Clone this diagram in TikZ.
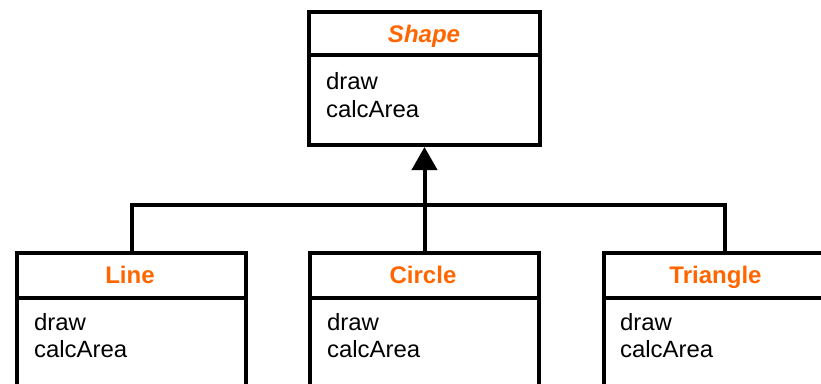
\documentclass[tikz,border=0pt]{standalone}
\usepackage{fontspec}
\setmainfont{Liberation Sans}
\usetikzlibrary{arrows.meta}
\definecolor{umlorange}{HTML}{FF6600}
\begin{document}
\begin{tikzpicture}[x=1pt,y=-1pt,line width=4pt,
  classbox/.style={draw,line width=4pt,anchor=north west,inner sep=0pt,minimum width=229pt},
  classtitle/.style={font=\fontsize{24}{28}\selectfont\bfseries,text=umlorange,anchor=base,inner sep=0pt},
  member/.style={font=\fontsize{23.5}{28}\selectfont,anchor=base west,inner sep=0pt,xscale=1.02},
  link/.style={line width=4pt}]
\useasboundingbox (0,0) rectangle (821,383);
% top class
\node[classbox,minimum width=231pt,minimum height=133pt] (shape) at (307,10) {};
\draw ([yshift=-45pt]shape.north west) -- ([yshift=-45pt]shape.north east);
\node[classtitle] (shapet) at (424,42) {\itshape Shape};
\node[member] (shapem1) at (324,89) {draw};
\node[member] (shapem2) at (324,117) {calcArea};
% subclasses
\node[classbox,minimum height=150pt] (line) at (15,251) {};
\node[classbox,minimum height=150pt] (circle) at (308,251) {};
\node[classbox,minimum height=150pt] (triangle) at (602,251) {};
\foreach \b in {line,circle,triangle}{
  \draw ([yshift=-47pt]\b.north west) -- ([yshift=-47pt]\b.north east);
}
\node[classtitle] (linet) at (130,283) {Line};
\node[classtitle] (circlet) at (423,283) {Circle};
\node[classtitle] (trianglet) at (715.5,283) {Triangle};
\node[member] (linem1) at (32,330) {draw};
\node[member] (linem2) at (32,357) {calcArea};
\node[member] (circlem1) at (325,330) {draw};
\node[member] (circlem2) at (325,357) {calcArea};
\node[member] (trianglem1) at (618,330) {draw};
\node[member] (trianglem2) at (618,357) {calcArea};
% connectors
\coordinate (bus) at (423,205);
\coordinate (tridrop) at ([xshift=6pt]triangle.north);
\draw[link,-{Triangle[length=23pt,width=25pt]}] (circle.north) -- (shape.south);
\draw[link] (line.north) |- (bus) -| (tridrop);
\end{tikzpicture}
\end{document}
